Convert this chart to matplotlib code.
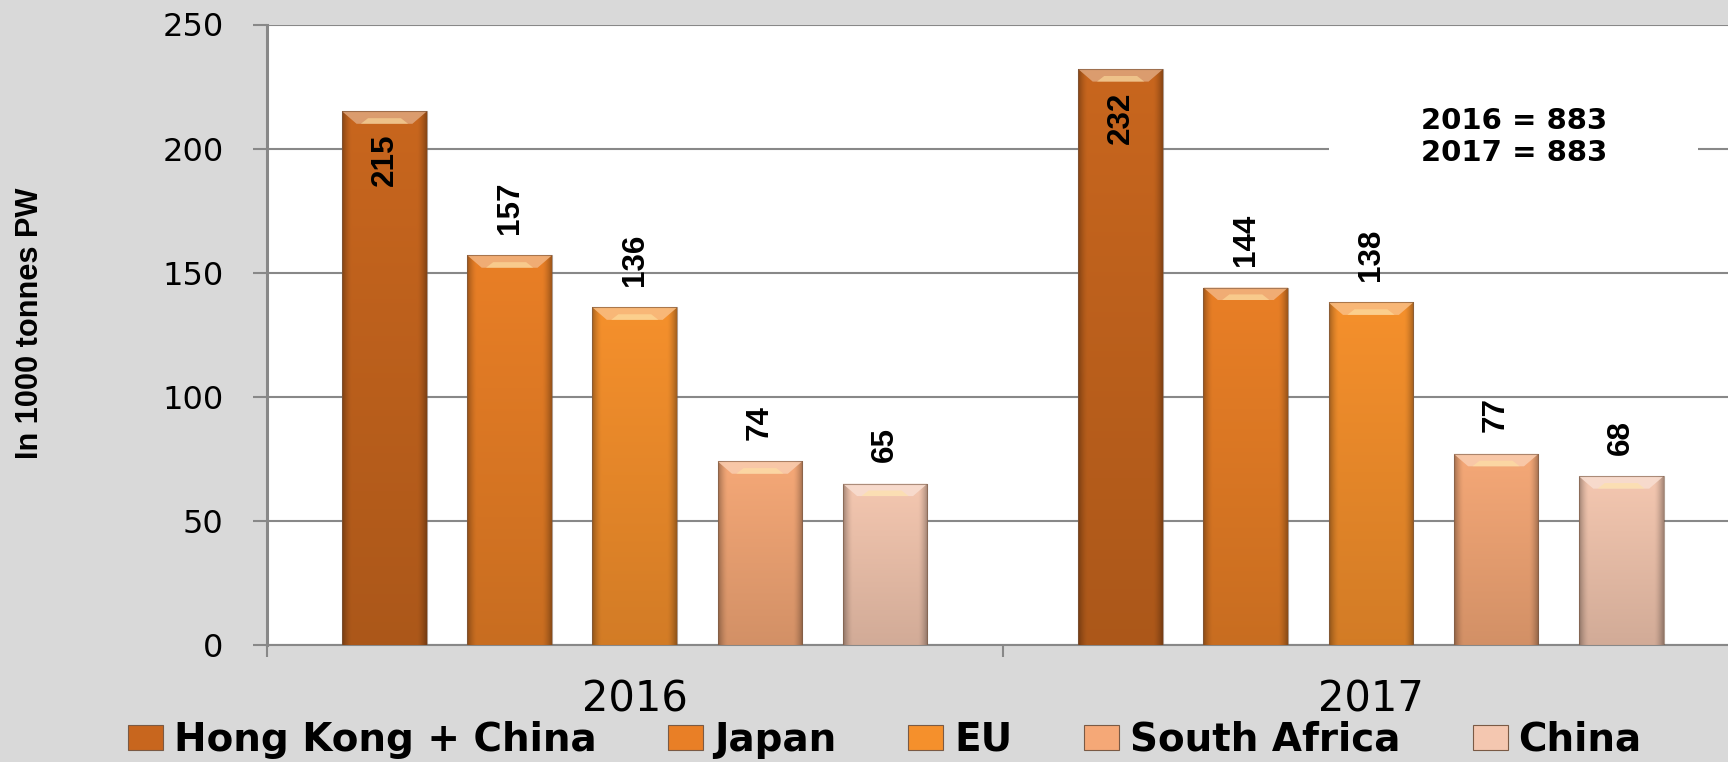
import matplotlib
matplotlib.use("Agg")
import matplotlib.pyplot as plt
import numpy as np
from matplotlib import font_manager as fm
from matplotlib.patches import Patch, Polygon, Rectangle
from matplotlib.colors import to_rgb

# ---------------- data ----------------
years = ["2016", "2017"]
series = ["Hong Kong + China", "Japan", "EU", "South Africa", "China"]
values_2016 = [215, 157, 136, 74, 65]
values_2017 = [232, 144, 138, 77, 68]
colors = ["#C8661E", "#E97F26", "#F5902C", "#F5A877", "#F4C7B0"]
label_inside = [True, False, False, False, False]
totals_text = ["2016 = 883", "2017 = 883"]
yticks = [0, 50, 100, 150, 200, 250]
ylabel = "In 1000 tonnes PW"

# ---------------- fonts ----------------
names = {f.name for f in fm.fontManager.ttflist}
if "Liberation Sans Narrow" in names:
    narrow_family, narrow_scale = "Liberation Sans Narrow", 1.0
elif "Liberation Sans" in names:
    narrow_family, narrow_scale = "Liberation Sans", 0.87
else:
    narrow_family, narrow_scale = "DejaVu Sans", 0.78

W, H = 1728, 762
fig = plt.figure(figsize=(W / 100, H / 100), dpi=100, facecolor="#D9D9D9")
left_px, right_px, top_px, bot_px = 266.7, 1739, 24.5, 645
ax = fig.add_axes([left_px / W, 1 - bot_px / H, (right_px - left_px) / W, (bot_px - top_px) / H])
ax.set_facecolor("white")

data = np.array([values_2016, values_2017])
x = np.arange(len(years))
spacing, width = 0.17, 0.115

grid_col = "#888888"

def lighten(c, f):
    r = np.array(to_rgb(c))
    return tuple(r + (1 - r) * f)

lab_size = 26 * narrow_scale

for i, name in enumerate(series):
    vals = data[:, i]
    pos = x + (i - (len(series) - 1) / 2) * spacing
    bars = ax.bar(pos, vals, width, color=colors[i], linewidth=0, zorder=3, label=name)
    base = np.array(to_rgb(colors[i]))
    for b, v in zip(bars, vals):
        bx, by, bw, bh = b.get_x(), b.get_y(), b.get_width(), b.get_height()
        nx, ny = 60, 60
        xs = np.linspace(0, 1, nx)
        ys = np.linspace(0, 1, ny)
        edge = np.clip((np.abs(2 * xs - 1) - 0.78) / 0.22, 0, 1)
        fh = 1 - 0.30 * edge ** 1.5
        fv = 0.86 + 0.14 * ys
        fac = fv[:, None] * fh[None, :]
        img = np.clip(base[None, None, :] * fac[:, :, None], 0, 1)
        im = ax.imshow(img, extent=(bx, bx + bw, by, by + bh), origin="lower",
                       aspect="auto", interpolation="bilinear", zorder=3.1)
        im.set_clip_path(b)
        cap = 5.0
        inset = bw * 0.17
        bevel = Polygon([(bx, by + bh), (bx + bw, by + bh),
                         (bx + bw - inset, by + bh - cap), (bx + inset, by + bh - cap)],
                        closed=True, facecolor=lighten(colors[i], 0.40), edgecolor="none",
                        alpha=0.9, zorder=3.2)
        ax.add_patch(bevel)
        inner = Polygon([(bx + inset * 1.3, by + bh - cap), (bx + bw - inset * 1.3, by + bh - cap),
                         (bx + bw - inset * 1.8, by + bh - cap * 0.55), (bx + inset * 1.8, by + bh - cap * 0.55)],
                        closed=True, facecolor=lighten("#FFD060", 0.4), edgecolor="none",
                        alpha=0.55, zorder=3.25)
        ax.add_patch(inner)
        ax.add_patch(Rectangle((bx, by), bw, bh, fill=False, edgecolor="#7a5a45",
                               linewidth=0.8, alpha=0.6, zorder=3.3))
        if label_inside[i]:
            ax.annotate(str(v), (bx + bw / 2, bh), xytext=(0, -16), textcoords="offset points",
                        rotation=90, ha="center", va="top", fontsize=lab_size, fontweight="bold",
                        family=narrow_family, zorder=5)
        else:
            ax.annotate(str(v), (bx + bw / 2, bh), xytext=(0, 15.5), textcoords="offset points",
                        rotation=90, ha="center", va="bottom", fontsize=lab_size, fontweight="bold",
                        family=narrow_family, zorder=5)

ax.set_xlim(-0.5, 1.5)
ax.set_ylim(0, 250)
ax.set_yticks(yticks)
ax.set_yticklabels([str(t) for t in yticks], fontsize=23, family="DejaVu Sans")
ax.yaxis.grid(True, color=grid_col, linewidth=1.5, zorder=1)
ax.set_axisbelow(True)
ax.tick_params(axis="y", direction="out", length=10, width=1.5, color=grid_col, pad=21)

ax.set_xticks([-0.5, 0.5, 1.5])
ax.set_xticklabels([])
ax.set_xticks(x, minor=True)
ax.set_xticklabels(years, minor=True, fontsize=30, family="DejaVu Sans")
ax.tick_params(axis="x", which="major", direction="out", length=8.5, width=1.5, color=grid_col)
ax.tick_params(axis="x", which="minor", length=0, pad=24)

for s in ["top", "right"]:
    ax.spines[s].set_visible(False)
ax.spines["left"].set_color(grid_col)
ax.spines["left"].set_linewidth(2.2)
ax.spines["bottom"].set_color(grid_col)
ax.spines["bottom"].set_linewidth(1.5)

# totals box
def ax_fx(px):
    return (px - left_px) / (right_px - left_px)

def ax_fy(py):
    return (bot_px - py) / (bot_px - top_px)

ax.add_patch(Rectangle((ax_fx(1329), ax_fy(225)), ax_fx(1698) - ax_fx(1329), ax_fy(60) - ax_fy(225),
                       transform=ax.transAxes, facecolor="white", edgecolor="none", zorder=2))
ax.text(ax_fx(1514), ax_fy(137), "\n".join(totals_text), transform=ax.transAxes,
        ha="center", va="center", fontsize=21, fontweight="bold", family="DejaVu Sans",
        linespacing=1.2, zorder=6)

fig.text(30 / W, 1 - 323.5 / H, ylabel, rotation=90, ha="center", va="center",
         fontsize=25.5 * narrow_scale, fontweight="bold", family=narrow_family)

handles = [Patch(facecolor=c, edgecolor="#7a5a45", linewidth=0.8) for c in colors]
fig.legend(handles, series, loc="center", bbox_to_anchor=(0.512, 0.029), ncol=5, frameon=False,
           prop=dict(family="DejaVu Sans", weight="bold", size=28),
           handlelength=0.9, handleheight=0.62, handletextpad=0.28, columnspacing=1.85,
           borderaxespad=0, borderpad=0)

fig.savefig("out.png", dpi=100, facecolor=fig.get_facecolor())
